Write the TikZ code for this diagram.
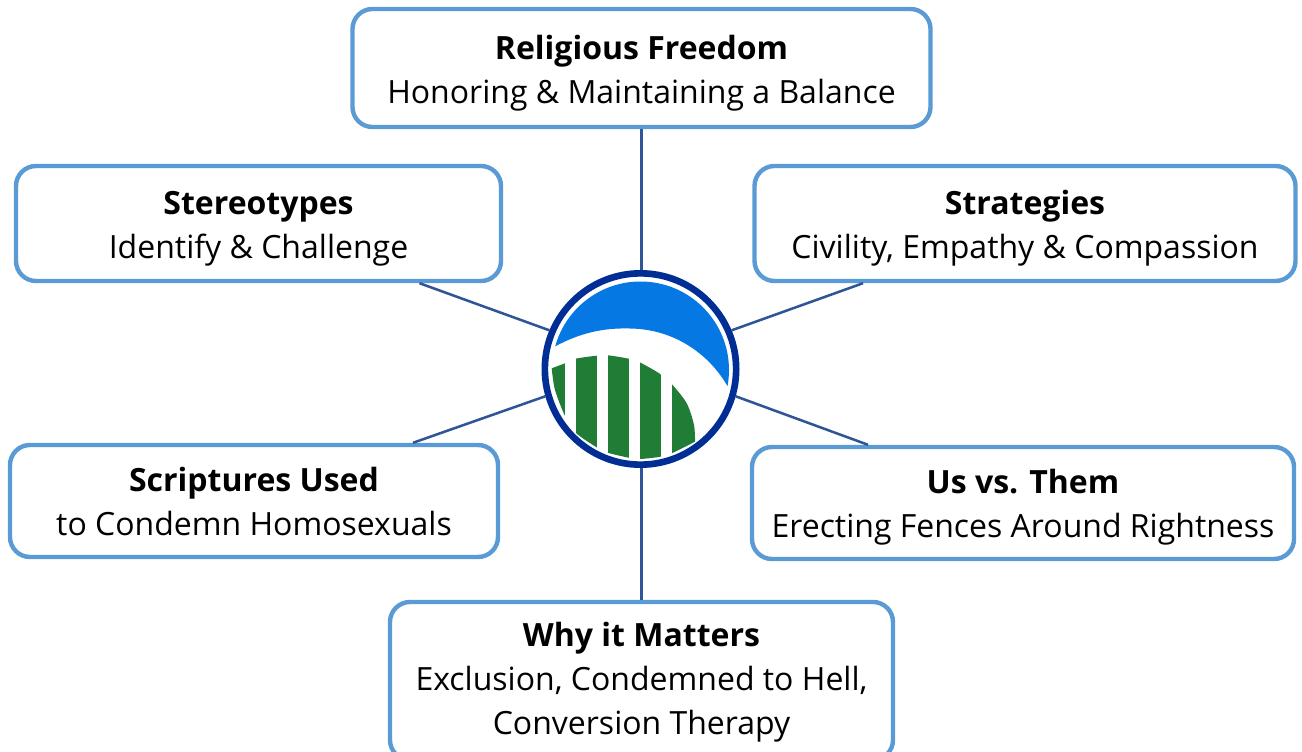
\documentclass[tikz,border=0pt]{standalone}
\usepackage{fontspec}
\setmainfont{Open Sans}
\usetikzlibrary{calc}
\definecolor{boxline}{HTML}{5B9BD5}
\definecolor{conn}{HTML}{2F5597}
\definecolor{ringblue}{HTML}{002E95}
\definecolor{capblue}{HTML}{0678E3}
\definecolor{stripe}{HTML}{207D35}
\tikzset{
  x=0.75pt,y=-0.75pt,
  topic/.style={draw=boxline,line width=3.3pt,rounded corners=15pt,fill=white,align=center,
    inner sep=0pt,font=\fontsize{24}{33}\selectfont},
  link/.style={draw=conn,line width=1.9pt},
  ring/.style={circle,draw=ringblue,line width=5pt,fill=white,minimum size=143.5pt,inner sep=0pt},
}
\newcommand{\hd}[2]{\rule{0pt}{#1pt}\textbf{#2}}
\begin{document}
\begin{tikzpicture}
\useasboundingbox (0,0) rectangle (1302,752);
\clip (0,0) rectangle (1302,752);
\node[topic,minimum width=433.5pt,minimum height=88.5pt] (freedom) at (641.5,68) {\hd{25.8}{Religious Freedom}\\Honoring \& Maintaining a Balance};
\node[topic,minimum width=363.75pt,minimum height=86.25pt] (stereo) at (258.5,223.5) {\hd{25.8}{Stereotypes}\\Identify \& Challenge};
\node[topic,minimum width=405.75pt,minimum height=86.25pt] (strat) at (1025,223.5) {\hd{25.8}{Strategies}\\Civility, Empathy \& Compassion};
\node[topic,minimum width=366pt,minimum height=84pt] (script) at (254,501) {\hd{18.3}{Scriptures Used}\\to Condemn Homosexuals};
\node[topic,minimum width=406.5pt,minimum height=84pt] (us) at (1023,503) {\hd{24.3}{Us vs. Them}\\Erecting Fences Around Rightness};
\node[topic,minimum width=377.25pt,minimum height=118.5pt] (why) at (641.5,681) {\hd{19.8}{Why it Matters}\\Exclusion, Condemned to Hell,\\Conversion Therapy};
\node[ring] (logo) at (640.5,369) {};
\begin{scope}
  \clip (640.5,370) circle[radius=88.5];
  \fill[capblue] (554,347) .. controls (585,330) and (610,328) .. (630,328.5)
     .. controls (675,329) and (710,355) .. (728,387) -- (760,387) -- (760,260) -- (530,260) -- (530,347) -- cycle;
\end{scope}
\begin{scope}
  \clip plot[smooth] coordinates {(551.7,368.3) (565,363.3) (575.7,358.7) (596.7,355.7) (607.7,355.3) (628.7,358.7) (639.7,362.3) (660.7,374.3) (671.7,384) (686.7,403.3) (694,425) (695,441.7)}
     -- plot[smooth] coordinates {(695,441.7) (671.7,453.3) (660.7,456.7) (639.7,459) (628.7,457.7) (607.7,452.7) (596.7,447.3) (575.7,432.7) (565,416) (555,390) (551.7,368.3)} -- cycle;
  \fill[stripe] (551,350) rectangle (565,465);
  \fill[stripe] (575.7,350) rectangle (596.7,465);
  \fill[stripe] (607.7,350) rectangle (628.7,465);
  \fill[stripe] (639.7,350) rectangle (660.7,465);
  \fill[stripe] (671.7,350) rectangle (696,465);
\end{scope}
\draw[link] (freedom.south) -- (freedom.south |- logo.north);
\draw[link] ($(stereo.south)+(161,0)$) -- (logo.157);
\draw[link] ($(strat.south)+(-162,0)$) -- (logo.23);
\draw[link] ($(script.north)+(159,0)$) -- (logo.196.5);
\draw[link] ($(us.north)+(-155,0)$) -- (logo.-16.3);
\draw[link] (why.north) -- (why.north |- logo.south);
\end{tikzpicture}
\end{document}
